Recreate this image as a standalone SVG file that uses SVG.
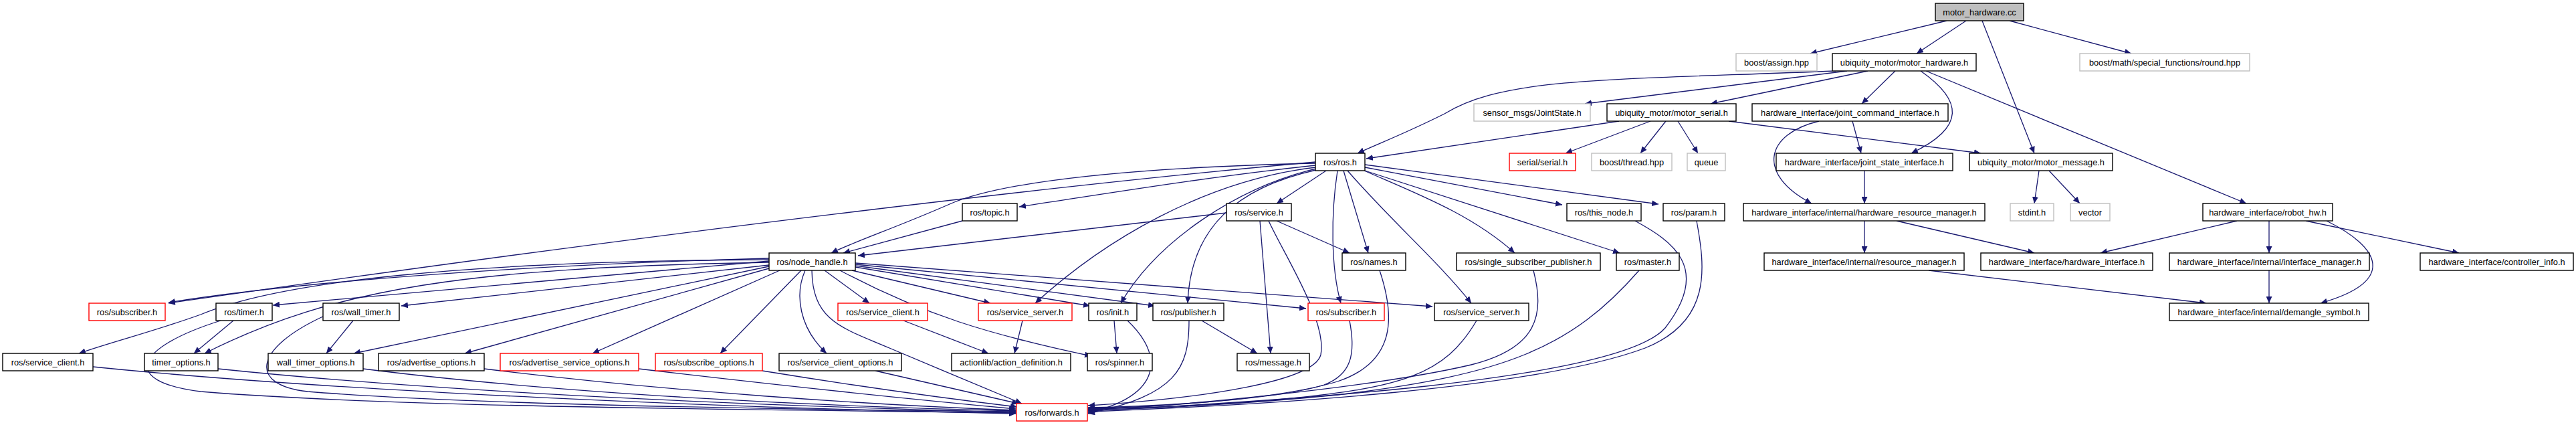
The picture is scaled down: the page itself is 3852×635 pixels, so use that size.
<svg xmlns="http://www.w3.org/2000/svg" width="3852" height="635" viewBox="0 0 3852 635">
<defs>
<marker id="a" markerWidth="11" markerHeight="9" refX="10" refY="4.5" orient="auto" markerUnits="userSpaceOnUse"><path d="M0,0 L10,4.5 L0,9 z" fill="#191970"/></marker>
<style>
rect{stroke-width:1.4}
.n rect{fill:#fff;stroke:#000}
.r rect{fill:#fff;stroke:#ff0000}
.g rect{fill:#fff;stroke:#bfbfbf}
.root rect{fill:#bfbfbf;stroke:#000}
text{font-family:"Liberation Sans",Arial,sans-serif;font-size:12.8px;fill:#000;text-anchor:middle}
#edges path{fill:none;stroke:#191970;stroke-width:1.3;marker-end:url(#a)}
</style>
</defs>
<rect width="3852" height="635" fill="#fff"/>
<g id="edges">
<path d="M2911,31 L2707,80"/>
<path d="M2940,31 L2866,80"/>
<path d="M2964,31 L3042,229"/>
<path d="M3005,31 L3187,80"/>
<path d="M2745,106 C2400,120 2250,115 2160,170 C2100,200 2060,215 2030,229"/>
<path d="M2762,106 L2370,155"/>
<path d="M2793,106 L2558,155"/>
<path d="M2834,106 L2784,155"/>
<path d="M2872,106 C2935,150 2940,190 2858,229"/>
<path d="M2880,106 L3359,304"/>
<path d="M2421,181 L2043,237"/>
<path d="M2468,181 L2341,229"/>
<path d="M2491,181 L2453,229"/>
<path d="M2509,181 L2539,229"/>
<path d="M2585,181 L2962,229"/>
<path d="M2770,181 L2783,229"/>
<path d="M2720,181 C2640,200 2625,260 2709,304"/>
<path d="M2788,255 L2788,304"/>
<path d="M3049,255 L3042,304"/>
<path d="M3064,255 L3110,304"/>
<path d="M2788,330 L2788,378"/>
<path d="M2836,330 L3042,378"/>
<path d="M3345,330 L3141,378"/>
<path d="M3393,330 L3393,378"/>
<path d="M3448,330 L3677,378"/>
<path d="M3479,330 C3560,370 3585,420 3470,453"/>
<path d="M2884,404 L3299,453"/>
<path d="M3393,404 L3393,453"/>
<path d="M1967,244 C1700,250 1500,270 1420,305 C1340,340 1280,360 1243,378"/>
<path d="M1967,247 C1800,265 1650,290 1524,309"/>
<path d="M1967,242 C1600,275 1000,345 252,453"/>
<path d="M1983,255 L1909,304"/>
<path d="M2009,255 L2046,378"/>
<path d="M2041,250 L2336,306"/>
<path d="M2041,246 L2480,305"/>
<path d="M2040,255 C2120,290 2200,320 2265,378"/>
<path d="M2041,255 L2422,378"/>
<path d="M1967,250 C1800,270 1650,360 1548,453"/>
<path d="M1968,252 C1850,280 1730,360 1676,453"/>
<path d="M1968,254 C1850,280 1780,340 1776,453"/>
<path d="M2000,255 C1990,320 1990,400 2005,453"/>
<path d="M2015,255 C2080,330 2150,390 2200,453"/>
<path d="M1834,318 L1283,382"/>
<path d="M1909,330 L2018,378"/>
<path d="M1884,330 L1900,528"/>
<path d="M1897,330 C1920,380 1985,480 1975,530 C1965,570 1800,595 1627,606"/>
<path d="M1439,330 L1261,378"/>
<path d="M2445,330 C2500,360 2560,400 2490,490 C2420,570 1900,600 1627,614"/>
<path d="M2537,330 C2550,400 2560,480 2460,520 C2300,580 1900,605 1627,615"/>
<path d="M2451,404 C2350,520 2250,560 2000,590 C1850,605 1700,611 1627,613"/>
<path d="M2293,404 C2310,470 2300,520 2200,545 C2050,580 1750,608 1627,612"/>
<path d="M2063,404 C2085,470 2090,540 2000,570 C1900,600 1700,609 1627,610"/>
<path d="M2018,479 C2028,530 2020,560 1980,575 C1900,600 1700,608 1627,609"/>
<path d="M2208,479 C2160,560 2100,580 1900,598 C1800,606 1700,610 1627,611"/>
<path d="M1274,404 L1481,453"/>
<path d="M1279,399 L1630,457"/>
<path d="M1279,397 L1727,457"/>
<path d="M1279,395 L1953,461"/>
<path d="M1279,393 L2142,458"/>
<path d="M1233,404 L1300,453"/>
<path d="M1256,404 C1380,470 1480,500 1632,532"/>
<path d="M1214,404 C1215,480 1260,490 1330,520 C1400,550 1450,570 1528,603"/>
<path d="M1204,404 C1188,440 1195,490 1236,528"/>
<path d="M1198,404 L1077,528"/>
<path d="M1166,404 L886,528"/>
<path d="M1150,401 L695,528"/>
<path d="M1150,398 L529,528"/>
<path d="M1150,396 L600,457"/>
<path d="M1150,392 C700,400 500,430 306,528"/>
<path d="M1150,390 L408,456"/>
<path d="M1150,388 C700,390 420,420 300,470 C230,495 170,510 118,528"/>
<path d="M1150,386 C800,395 450,420 252,452"/>
<path d="M139,548 C500,585 1100,610 1519,618"/>
<path d="M330,479 C200,520 180,570 300,585 C600,610 1200,612 1519,617"/>
<path d="M326,551 C700,590 1200,608 1519,616"/>
<path d="M485,472 C380,520 370,575 460,585 C700,605 1200,612 1519,615"/>
<path d="M543,551 C850,590 1250,608 1519,614"/>
<path d="M724,551 C1000,585 1300,605 1519,613"/>
<path d="M955,551 C1200,580 1400,600 1519,611"/>
<path d="M1140,554 C1300,580 1420,596 1521,608"/>
<path d="M1309,554 L1523,603"/>
<path d="M349,479 L290,528"/>
<path d="M528,479 L488,528"/>
<path d="M1351,479 L1478,528"/>
<path d="M1529,479 L1517,528"/>
<path d="M1666,479 L1670,528"/>
<path d="M1686,479 C1740,530 1740,590 1627,617"/>
<path d="M1797,479 L1880,528"/>
<path d="M1778,479 C1778,550 1760,590 1627,618"/>
</g>
<g id="n1" class="root"><rect x="2894" y="5" width="132" height="26"/><text x="2960" y="22.6">motor_hardware.cc</text></g>
<g id="n2" class="g"><rect x="2596" y="80" width="121" height="26"/><text x="2656.5" y="97.6">boost/assign.hpp</text></g>
<g id="n3" class="n"><rect x="2740" y="80" width="215" height="26"/><text x="2847.5" y="97.6">ubiquity_motor/motor_hardware.h</text></g>
<g id="n4" class="g"><rect x="3110" y="80" width="254" height="26"/><text x="3237" y="97.6">boost/math/special_functions/round.hpp</text></g>
<g id="n5" class="g"><rect x="2204" y="155" width="174" height="26"/><text x="2291" y="172.6">sensor_msgs/JointState.h</text></g>
<g id="n6" class="n"><rect x="2403" y="155" width="193" height="26"/><text x="2499.5" y="172.6">ubiquity_motor/motor_serial.h</text></g>
<g id="n7" class="n"><rect x="2620" y="155" width="293" height="26"/><text x="2766.5" y="172.6">hardware_interface/joint_command_interface.h</text></g>
<g id="n8" class="n"><rect x="1967" y="229" width="74" height="26"/><text x="2004" y="246.6">ros/ros.h</text></g>
<g id="n9" class="r"><rect x="2257" y="229" width="99" height="26"/><text x="2306.5" y="246.6">serial/serial.h</text></g>
<g id="n10" class="g"><rect x="2380" y="229" width="120" height="26"/><text x="2440" y="246.6">boost/thread.hpp</text></g>
<g id="n11" class="g"><rect x="2523" y="229" width="57" height="26"/><text x="2551.5" y="246.6">queue</text></g>
<g id="n12" class="n"><rect x="2656" y="229" width="264" height="26"/><text x="2788" y="246.6">hardware_interface/joint_state_interface.h</text></g>
<g id="n13" class="n"><rect x="2945" y="229" width="214" height="26"/><text x="3052" y="246.6">ubiquity_motor/motor_message.h</text></g>
<g id="n14" class="n"><rect x="1439" y="304" width="82" height="26"/><text x="1480" y="321.6">ros/topic.h</text></g>
<g id="n15" class="n"><rect x="1834" y="304" width="97" height="26"/><text x="1882.5" y="321.6">ros/service.h</text></g>
<g id="n16" class="n"><rect x="2343" y="304" width="111" height="26"/><text x="2398.5" y="321.6">ros/this_node.h</text></g>
<g id="n17" class="n"><rect x="2487" y="304" width="92" height="26"/><text x="2533" y="321.6">ros/param.h</text></g>
<g id="n18" class="n"><rect x="2607" y="304" width="361" height="26"/><text x="2787.5" y="321.6">hardware_interface/internal/hardware_resource_manager.h</text></g>
<g id="n19" class="g"><rect x="3006" y="304" width="65" height="26"/><text x="3038.5" y="321.6">stdint.h</text></g>
<g id="n20" class="g"><rect x="3096" y="304" width="59" height="26"/><text x="3125.5" y="321.6">vector</text></g>
<g id="n21" class="n"><rect x="3294" y="304" width="194" height="26"/><text x="3391" y="321.6">hardware_interface/robot_hw.h</text></g>
<g id="n22" class="n"><rect x="1150" y="378" width="129" height="26"/><text x="1214.5" y="395.6">ros/node_handle.h</text></g>
<g id="n23" class="n"><rect x="2007" y="378" width="95" height="26"/><text x="2054.5" y="395.6">ros/names.h</text></g>
<g id="n24" class="n"><rect x="2178" y="378" width="215" height="26"/><text x="2285.5" y="395.6">ros/single_subscriber_publisher.h</text></g>
<g id="n25" class="n"><rect x="2417" y="378" width="94" height="26"/><text x="2464" y="395.6">ros/master.h</text></g>
<g id="n26" class="n"><rect x="2638" y="378" width="299" height="26"/><text x="2787.5" y="395.6">hardware_interface/internal/resource_manager.h</text></g>
<g id="n27" class="n"><rect x="2962" y="378" width="257" height="26"/><text x="3090.5" y="395.6">hardware_interface/hardware_interface.h</text></g>
<g id="n28" class="n"><rect x="3244" y="378" width="299" height="26"/><text x="3393.5" y="395.6">hardware_interface/internal/interface_manager.h</text></g>
<g id="n29" class="n"><rect x="3619" y="378" width="229" height="26"/><text x="3733.5" y="395.6">hardware_interface/controller_info.h</text></g>
<g id="n30" class="r"><rect x="133" y="453" width="114" height="26"/><text x="190" y="470.6">ros/subscriber.h</text></g>
<g id="n31" class="n"><rect x="323" y="453" width="84" height="26"/><text x="365" y="470.6">ros/timer.h</text></g>
<g id="n32" class="n"><rect x="483" y="453" width="114" height="26"/><text x="540" y="470.6">ros/wall_timer.h</text></g>
<g id="n33" class="r"><rect x="1253" y="453" width="134" height="26"/><text x="1320" y="470.6">ros/service_client.h</text></g>
<g id="n34" class="r"><rect x="1463" y="453" width="140" height="26"/><text x="1533" y="470.6">ros/service_server.h</text></g>
<g id="n35" class="n"><rect x="1628" y="453" width="72" height="26"/><text x="1664" y="470.6">ros/init.h</text></g>
<g id="n36" class="n"><rect x="1724" y="453" width="106" height="26"/><text x="1777" y="470.6">ros/publisher.h</text></g>
<g id="n37" class="r"><rect x="1956" y="453" width="114" height="26"/><text x="2013" y="470.6">ros/subscriber.h</text></g>
<g id="n38" class="n"><rect x="2145" y="453" width="141" height="26"/><text x="2215.5" y="470.6">ros/service_server.h</text></g>
<g id="n39" class="n"><rect x="3244" y="453" width="298" height="26"/><text x="3393" y="470.6">hardware_interface/internal/demangle_symbol.h</text></g>
<g id="n40" class="n"><rect x="4" y="528" width="135" height="26"/><text x="71.5" y="545.6">ros/service_client.h</text></g>
<g id="n41" class="n"><rect x="216" y="528" width="110" height="26"/><text x="271" y="545.6">timer_options.h</text></g>
<g id="n42" class="n"><rect x="401" y="528" width="142" height="26"/><text x="472" y="545.6">wall_timer_options.h</text></g>
<g id="n43" class="n"><rect x="566" y="528" width="158" height="26"/><text x="645" y="545.6">ros/advertise_options.h</text></g>
<g id="n44" class="r"><rect x="748" y="528" width="207" height="26"/><text x="851.5" y="545.6">ros/advertise_service_options.h</text></g>
<g id="n45" class="r"><rect x="980" y="528" width="160" height="26"/><text x="1060" y="545.6">ros/subscribe_options.h</text></g>
<g id="n46" class="n"><rect x="1165" y="528" width="183" height="26"/><text x="1256.5" y="545.6">ros/service_client_options.h</text></g>
<g id="n47" class="n"><rect x="1423" y="528" width="178" height="26"/><text x="1512" y="545.6">actionlib/action_definition.h</text></g>
<g id="n48" class="n"><rect x="1626" y="528" width="97" height="26"/><text x="1674.5" y="545.6">ros/spinner.h</text></g>
<g id="n49" class="n"><rect x="1850" y="528" width="108" height="26"/><text x="1904" y="545.6">ros/message.h</text></g>
<g id="n50" class="r"><rect x="1520" y="603" width="106" height="26"/><text x="1573" y="620.6">ros/forwards.h</text></g>
</svg>
